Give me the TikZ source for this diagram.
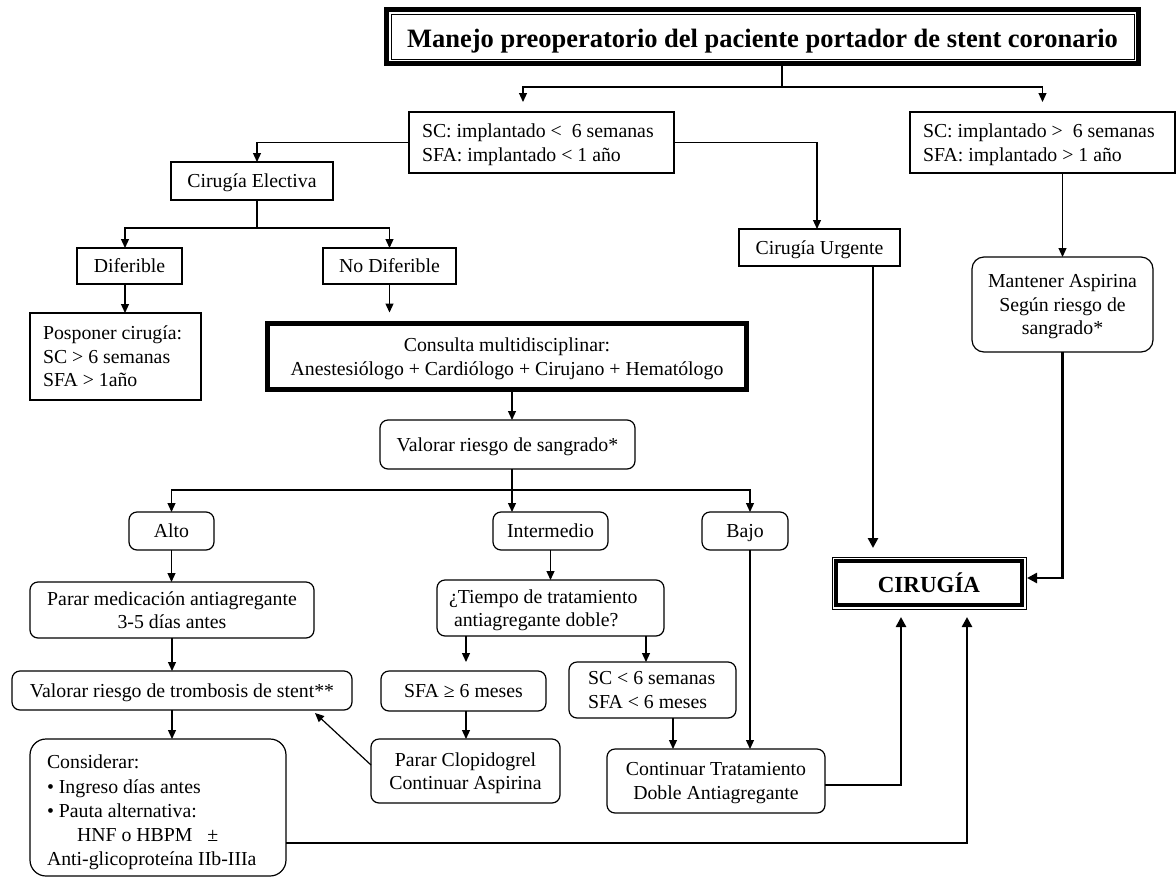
\documentclass[tikz,border=0pt]{standalone}
\usepackage{fontspec}
\setmainfont{Liberation Serif}
\usetikzlibrary{arrows.meta,calc}
\begin{document}
\begin{tikzpicture}[x=1pt,y=-1pt,
  every node/.style={font=\fontsize{19.8}{23.5}\selectfont, inner sep=0pt, outer sep=0pt, align=center, text depth=0pt},
  bx/.style={draw, line width=1.2pt},
  rbx/.style={draw, line width=1.2pt, rounded corners=8pt},
  ltxt/.style={align=left, anchor=west},
  ln/.style={line width=1.2pt},
  arr/.style={line width=1.2pt, -{Triangle[length=9pt,width=8pt]}},
  tarr/.style={line width=2.6pt, -{Triangle[length=10pt,width=10pt]}},
]
\fill[white] (0,0) rectangle (1176,879);
\useasboundingbox (0,0) rectangle (1176,879);

% title
\node[bx, line width=4.5pt, minimum width=752pt, minimum height=54pt,
      text height=23pt, text depth=2pt,
      font=\fontsize{26.5}{30}\selectfont\bfseries] (title) at (762.5,36.5)
  {Manejo preoperatorio del paciente portador de stent coronario};
\draw[line width=1pt] ($(title.north west)+(4.5,4.5)$) rectangle ($(title.south east)+(-4.5,-4.5)$);

% level 1
\node[bx, minimum width=265pt, minimum height=61pt] (sc1) at (541.5,142.5) {};
\node[ltxt] (sc1t) at ([xshift=13pt]sc1.west) {SC: implantado <\ \ 6 semanas\\SFA: implantado < 1 año};
\node[bx, minimum width=265pt, minimum height=61pt] (sc2) at (1042.5,142.5) {};
\node[ltxt] (sc2t) at ([xshift=13pt]sc2.west) {SC: implantado >\ \ 6 semanas\\SFA: implantado > 1 año};

\node[bx, minimum width=162pt, minimum height=38pt] (elect) at (252,181) {Cirugía Electiva};
\node[bx, minimum width=161pt, minimum height=37pt] (urg) at (819.5,247.5) {Cirugía Urgente};
\node[bx, minimum width=105pt, minimum height=36pt] (dif) at (129.5,266) {Diferible};
\node[bx, minimum width=133pt, minimum height=36pt] (nodif) at (389.5,266) {No Diferible};
\node[bx, minimum width=171pt, minimum height=87pt] (posp) at (115.5,356.5) {};
\node[ltxt] (pospt) at ([xshift=13pt]posp.west) {Posponer cirugía:\\SC > 6 semanas\\SFA > 1año};
\node[bx, line width=5pt, minimum width=479pt, minimum height=66pt] (cons) at (507,356.5)
  {Consulta multidisciplinar:\\Anestesiólogo + Cardiólogo + Cirujano + Hematólogo};
\node[rbx, minimum width=255pt, minimum height=49pt] (vsang) at (507.5,444.5) {Valorar riesgo de sangrado*};

\node[rbx, rounded corners=12pt, minimum width=181pt, minimum height=95pt] (mant) at (1062.5,304.5)
  {Mantener Aspirina\\Según riesgo de\\sangrado*};

% risk levels
\node[rbx, minimum width=85pt, minimum height=38pt] (alto) at (171.5,531) {Alto};
\node[rbx, minimum width=115pt, minimum height=38pt] (inter) at (550.5,531) {Intermedio};
\node[rbx, minimum width=86pt, minimum height=38pt] (bajo) at (745,531) {Bajo};

\node[rbx, minimum width=284pt, minimum height=56pt] (parar) at (172,610)
  {Parar medicación antiagregante\\3-5 días antes};
\node[rbx, minimum width=340pt, minimum height=39pt] (vtromb) at (182,690.5)
  {Valorar riesgo de trombosis de stent**};
\node[rbx, rounded corners=16pt, minimum width=256pt, minimum height=137pt] (consid) at (158,807.5) {};
\node[ltxt, font=\fontsize{19.8}{24.3}\selectfont] (considt) at ([xshift=17pt,yshift=-3pt]consid.west)
  {Considerar:\\
   •\ Ingreso días antes\\
   •\ Pauta alternativa:\\
   \hspace*{30pt}HNF o HBPM\ \ \ ±\\
   Anti-glicoproteína IIb-IIIa};

\node[rbx, minimum width=227pt, minimum height=56pt] (tiempo) at (550.5,608) {};
\node[ltxt] (tiempot) at ([xshift=12pt]tiempo.west) {¿Tiempo de tratamiento\\\hspace*{5pt}antiagregante doble?};
\node[rbx, minimum width=165pt, minimum height=40pt] (sfa6) at (463.5,691) {SFA ≥ 6 meses};
\node[rbx, minimum width=167pt, minimum height=56pt] (sc6) at (652.5,690) {};
\node[ltxt] (sc6t) at ([xshift=19pt]sc6.west) {SC < 6 semanas\\SFA < 6 meses};
\node[rbx, minimum width=189pt, minimum height=64pt] (clop) at (465.5,771)
  {Parar Clopidogrel\\Continuar Aspirina};
\node[rbx, minimum width=218pt, minimum height=64pt] (cont) at (716,781)
  {Continuar Tratamiento\\Doble Antiagregante};

% CIRUGIA
\node[bx, line width=4.5pt, minimum width=186pt, minimum height=44pt,
      font=\fontsize{23}{26}\selectfont\bfseries] (cir) at (929,583) {CIRUGÍA};
\draw[line width=1pt] ($(cir.north west)+(-4,-4)$) rectangle ($(cir.south east)+(4,4)$);

% connectors
\coordinate (tb) at (782,87);
\draw[ln] (title.south -| tb) -- (tb);
\draw[arr, shorten >=10pt] (tb) -| ([xshift=-18.5pt]sc1.north);
\draw[arr, shorten >=10pt] (tb) -| (sc2.north);

\draw[arr] (sc1.west) -| ([xshift=5pt]elect.north);
\draw[arr] (sc1.east) -| ([xshift=-2.5pt]urg.north);

\coordinate (eb) at (257,228);
\draw[ln] ([xshift=5pt]elect.south) -- (eb);
\draw[arr] (eb) -| ([xshift=-4.5pt]dif.north);
\draw[arr] (eb) -| (nodif.north);
\draw[arr] ([xshift=-4.5pt]dif.south) -- ([xshift=-4.5pt]dif.south |- posp.north);
\draw[arr, shorten >=11pt] (nodif.south) -- (nodif.south |- cons.north);
\draw[arr] ([xshift=5pt]cons.south) -- ([xshift=5pt]cons.south |- vsang.north);

\coordinate (vb) at (512,490);
\draw[ln] ([xshift=4.5pt]vsang.south) -- (vb);
\draw[arr] (vb) -| (alto.north);
\draw[arr] (vb) -- (vb |- inter.north);
\draw[arr] (vb) -| ([xshift=5pt]bajo.north);

\draw[arr] (alto.south) -- (alto.south |- parar.north);
\draw[arr] (parar.south) -- (parar.south |- vtromb.north);
\draw[arr] ([xshift=-10pt]vtromb.south) -- ([xshift=-10pt]vtromb.south |- consid.north);

\draw[arr] (inter.south) -- (inter.south |- tiempo.north);
\draw[arr, shorten >=9pt] ([xshift=2.5pt]sfa6.north |- tiempo.south) -- ([xshift=2.5pt]sfa6.north);
\draw[arr] ([xshift=-6.5pt]sc6.north |- tiempo.south) -- ([xshift=-6.5pt]sc6.north);
\draw[arr] ([xshift=2.5pt]sfa6.south) -- ([xshift=2.5pt]sfa6.south |- clop.north);
\draw[arr] ([yshift=6pt]clop.west) -- ([xshift=-37pt,yshift=-3pt]vtromb.south east);
\draw[arr] ([xshift=20.5pt]sc6.south) -- ([xshift=20.5pt]sc6.south |- cont.north);
\draw[arr] ([xshift=5pt]bajo.south) -- ([xshift=5pt]bajo.south |- cont.north);

\draw[arr] (mant.north |- sc2.south) -- (mant.north);

% thick connectors into CIRUGIA
\draw[tarr, shorten >=13pt] ([xshift=53.5pt]urg.south) -- ([xshift=53.5pt]urg.south |- cir.north);
\draw[tarr] (mant.south) |- ([xshift=5pt,yshift=5pt]cir.east);
\draw[tarr, shorten >=12pt] ([yshift=-4pt]cont.east) -| ([xshift=-28pt]cir.south);
\draw[tarr, shorten >=12pt] ([yshift=-35.5pt]consid.east) -| ([xshift=38pt]cir.south);
\end{tikzpicture}
\end{document}
